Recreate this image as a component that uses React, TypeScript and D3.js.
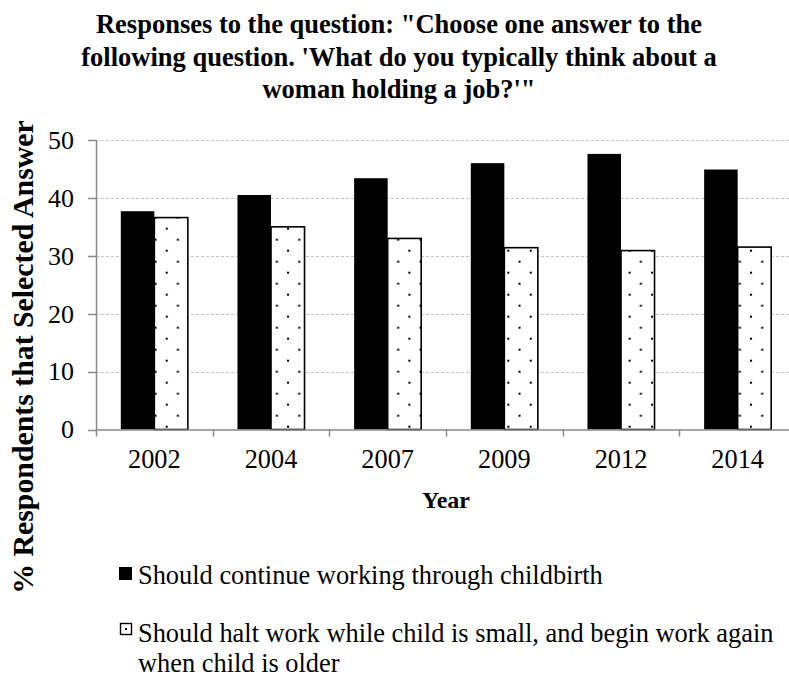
import React, { useEffect, useRef } from "react";
import * as d3 from "d3";

const years = ["2002", "2004", "2007", "2009", "2012", "2014"];
const continueWorking = [37.7, 40.5, 43.4, 46.0, 47.6, 44.9];
const haltWork = [36.6, 35.0, 33.0, 31.4, 30.9, 31.5];
const yTicks = [0, 10, 20, 30, 40, 50];
const seriesNames = ["continue", "halt"];

const titleLines = [
  "Responses to the question: \"Choose one answer to the",
  "following question. 'What do you typically think about a",
  "woman holding a job?'\"",
];
const legendContinue = ["Should continue working through childbirth"];
const legendHalt = [
  "Should halt work while child is small, and begin work again",
  "when child is older",
];

const W = 789;
const H = 676;
const FONT = "Liberation Serif, 'Times New Roman', serif";

export default function App() {
  const ref = useRef<SVGSVGElement | null>(null);

  useEffect(() => {
    const svg = d3.select(ref.current);
    svg.selectAll("*").remove();

    const left = 96;
    const right = 796;
    const top = 140;
    const bottom = 429.5;

    const x0 = d3.scaleBand<string>().domain(years).range([left, right]).padding(0);
    const x1 = d3
      .scaleBand<string>()
      .domain(seriesNames)
      .range([0, x0.bandwidth()])
      .paddingInner(0)
      .paddingOuter(0.74);
    const y = d3.scaleLinear().domain([0, 50]).range([bottom, top]);

    const defs = svg.append("defs");

    // title
    const title = svg
      .append("text")
      .attr("x", 399)
      .style("font-family", FONT)
      .attr("font-weight", "bold")
      .attr("font-size", 26.5)
      .attr("text-anchor", "middle")
      .attr("fill", "#000");
    titleLines.forEach((line, i) => {
      title.append("tspan").attr("x", 399).attr("y", 33 + i * 32.5).text(line);
    });

    // gridlines
    svg
      .append("g")
      .selectAll("line")
      .data(yTicks.filter((t) => t > 0))
      .join("line")
      .attr("x1", left)
      .attr("x2", right)
      .attr("y1", (d) => Math.round(y(d)) + 0.5)
      .attr("y2", (d) => Math.round(y(d)) + 0.5)
      .attr("stroke", "#c4c4c4")
      .attr("stroke-width", 1)
      .attr("stroke-dasharray", "3,2");

    // y axis
    const yAxis = svg.append("g");
    yAxis
      .append("line")
      .attr("x1", left + 0.5)
      .attr("x2", left + 0.5)
      .attr("y1", y(50))
      .attr("y2", y(0))
      .attr("stroke", "#8a8a8a")
      .attr("stroke-width", 1.5);
    yAxis
      .selectAll("line.tick")
      .data(yTicks)
      .join("line")
      .attr("class", "tick")
      .attr("x1", left - 8)
      .attr("x2", left)
      .attr("y1", (d) => Math.round(y(d)) + 0.5)
      .attr("y2", (d) => Math.round(y(d)) + 0.5)
      .attr("stroke", "#8a8a8a")
      .attr("stroke-width", 1.5);
    yAxis
      .selectAll("text")
      .data(yTicks)
      .join("text")
      .attr("x", 74)
      .attr("y", (d) => y(d))
      .attr("dy", "0.34em")
      .attr("text-anchor", "end")
      .style("font-family", FONT)
      .attr("font-size", 26)
      .attr("fill", "#000")
      .text((d) => String(d));

    // bars
    const groups = svg
      .append("g")
      .selectAll("g")
      .data(years.map((yr, i) => ({ yr, i, c: continueWorking[i], h: haltWork[i] })))
      .join("g")
      .attr("transform", (d) => `translate(${x0(d.yr)},0)`);

    groups
      .append("rect")
      .attr("x", x1("continue")!)
      .attr("y", (d) => y(d.c))
      .attr("width", x1.bandwidth())
      .attr("height", (d) => y(0) - y(d.c))
      .attr("fill", "#000");

    // dotted fill, anchored to each bar's left edge
    years.forEach((yr, i) => {
      const bx = (x0(yr) as number) + (x1("halt") as number);
      const p = defs
        .append("pattern")
        .attr("id", `dots-${i}`)
        .attr("patternUnits", "userSpaceOnUse")
        .attr("x", bx + 5)
        .attr("y", 227.7)
        .attr("width", 22.4)
        .attr("height", 22);
      p.append("rect").attr("width", 22.4).attr("height", 22).attr("fill", "#fff");
      p.append("rect").attr("x", 0).attr("y", 0).attr("width", 2).attr("height", 2).attr("fill", "#000");
      p.append("rect").attr("x", 11.2).attr("y", 11).attr("width", 2).attr("height", 2).attr("fill", "#000");
    });

    groups
      .append("rect")
      .attr("x", x1("halt")!)
      .attr("y", (d) => y(d.h))
      .attr("width", x1.bandwidth())
      .attr("height", (d) => y(0) - y(d.h))
      .attr("fill", (d) => `url(#dots-${d.i})`)
      .attr("stroke", "#000")
      .attr("stroke-width", 1.6);

    // x axis baseline and category ticks
    const xAxis = svg.append("g");
    xAxis
      .append("line")
      .attr("x1", left)
      .attr("x2", right)
      .attr("y1", y(0) + 0.5)
      .attr("y2", y(0) + 0.5)
      .attr("stroke", "#8a8a8a")
      .attr("stroke-width", 1.5);
    const boundaries = years.map((yr) => x0(yr) as number).concat([right]);
    xAxis
      .selectAll("line.tick")
      .data(boundaries)
      .join("line")
      .attr("class", "tick")
      .attr("x1", (d) => Math.round(d) + 0.5)
      .attr("x2", (d) => Math.round(d) + 0.5)
      .attr("y1", y(0))
      .attr("y2", y(0) + 7)
      .attr("stroke", "#8a8a8a")
      .attr("stroke-width", 1.5);
    xAxis
      .selectAll("text")
      .data(years)
      .join("text")
      .attr("x", (d) => (x0(d) as number) + x0.bandwidth() / 2)
      .attr("y", 468)
      .attr("text-anchor", "middle")
      .style("font-family", FONT)
      .attr("font-size", 26.3)
      .attr("fill", "#000")
      .text((d) => d);

    // axis titles
    svg
      .append("text")
      .attr("x", (left + right) / 2)
      .attr("y", 508)
      .attr("text-anchor", "middle")
      .style("font-family", FONT)
      .attr("font-weight", "bold")
      .attr("font-size", 24)
      .text("Year");

    svg
      .append("text")
      .attr("transform", "translate(33,357) rotate(-90)")
      .attr("text-anchor", "middle")
      .style("font-family", FONT)
      .attr("font-weight", "bold")
      .attr("font-size", 29.8)
      .text("% Respondents that Selected Answer");

    // legend
    const lg = svg.append("g");
    lg.append("rect").attr("x", 119).attr("y", 567).attr("width", 13).attr("height", 13).attr("fill", "#000");
    lg.append("text")
      .attr("x", 138)
      .attr("y", 584)
      .style("font-family", FONT)
      .attr("font-size", 26.4)
      .text(legendContinue[0]);

    lg.append("rect")
      .attr("x", 120.5)
      .attr("y", 623.5)
      .attr("width", 11)
      .attr("height", 11)
      .attr("fill", "#fff")
      .attr("stroke", "#000")
      .attr("stroke-width", 1.4);
    lg.append("rect").attr("x", 125).attr("y", 628).attr("width", 2).attr("height", 2).attr("fill", "#000");
    const lt = lg.append("text").style("font-family", FONT).attr("font-size", 26.4);
    legendHalt.forEach((line, i) => {
      lt.append("tspan").attr("x", 138).attr("y", 642 + i * 30).text(line);
    });
  }, []);

  return (
    <div style={{ position: "absolute", left: 0, top: 0 }}>
      <svg ref={ref} width={W} height={H} style={{ display: "block", background: "#fff" }} />
    </div>
  );
}
